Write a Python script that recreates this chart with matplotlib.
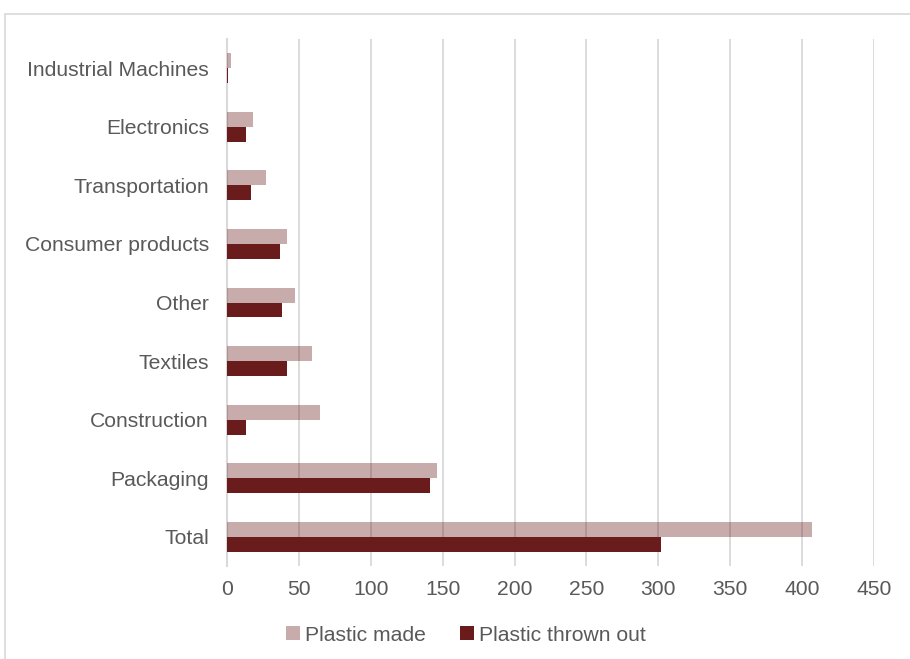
import numpy as np
import matplotlib.pyplot as plt
from matplotlib.patches import Rectangle

# data (bottom to top)
categories = ['Total', 'Packaging', 'Construction', 'Textiles', 'Other',
              'Consumer products', 'Transportation', 'Electronics', 'Industrial Machines']
plastic_made = [407, 146, 65, 59, 47, 42, 27, 18, 3]
plastic_thrown = [302, 141, 13, 42, 38, 37, 17, 13, 1]
x_ticks = [0, 50, 100, 150, 200, 250, 300, 350, 400, 450]

plt.rcParams['font.family'] = ['Liberation Sans', 'DejaVu Sans']
dark = '#6a1b1b'
grey_txt = '#595959'

fig = plt.figure(figsize=(9.1, 6.59), dpi=100)
ax = fig.add_axes([227 / 910, 1 - 566 / 659, (874 - 227) / 910, (566 - 39) / 659])

# outer chart border
fig.patches.append(Rectangle((5 / 910, -0.1), 1.2, 1 - 14 / 659 + 0.1, transform=fig.transFigure,
                             fill=False, edgecolor='#d9d9d9', linewidth=1.2))

y = np.arange(len(categories))
h = 0.256
ax.barh(y + h / 2, plastic_made, height=h, color=dark, alpha=0.37, zorder=3, label='Plastic made')
ax.barh(y - h / 2, plastic_thrown, height=h, color=dark, zorder=3, label='Plastic thrown out')

ax.set_xlim(0, 450)
ax.set_ylim(-0.5, len(categories) - 0.5)
ax.set_xticks(x_ticks)
ax.set_yticks(y)
ax.set_yticklabels(categories)
ax.grid(axis='x', color='#d9d9d9', linewidth=1.3, zorder=0)
ax.set_axisbelow(True)
for s in ['top', 'right', 'bottom']:
    ax.spines[s].set_visible(False)
ax.spines['left'].set_color('#d9d9d9')
ax.spines['left'].set_linewidth(1.5)
ax.tick_params(axis='both', length=0, labelsize=15.2, labelcolor=grey_txt)
ax.tick_params(axis='y', pad=13)
ax.tick_params(axis='x', pad=10)

fig.legend(loc='center', bbox_to_anchor=(0.512, 0.036), ncol=2, frameon=False,
           fontsize=15.2, labelcolor=grey_txt, handlelength=0.65, handleheight=0.65,
           handletextpad=0.25, columnspacing=1.6)

fig.savefig('out.png', dpi=100)
